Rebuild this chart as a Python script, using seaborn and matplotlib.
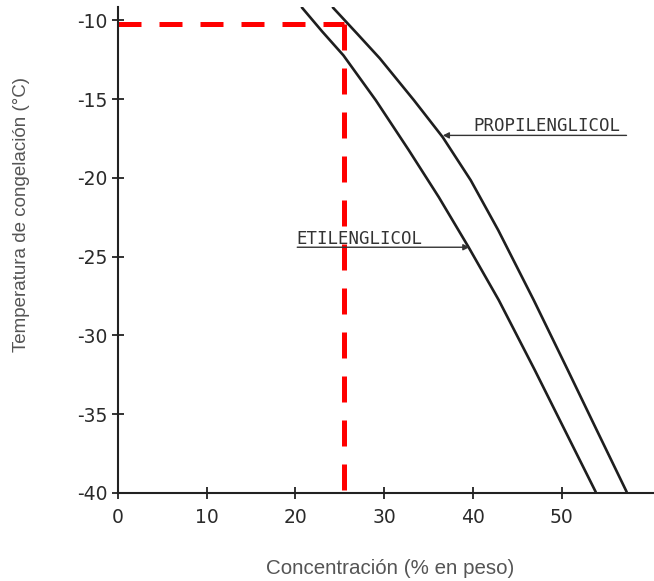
import numpy as np
import pandas as pd
import matplotlib
matplotlib.use("Agg")
import matplotlib.pyplot as plt
import seaborn as sns

# 数据 =====================================================================
# 乙二醇 / 丙二醇 冰点曲线
etil_conc = [20.72, 23.0, 25.4, 29.05, 32.77, 36.15, 39.5, 42.91, 46.96, 50.34, 53.83]
etil_temp = [-9.18, -10.70, -12.22, -15.07, -18.24, -21.22, -24.39, -27.76, -32.19,
             -36.0, -39.93]
prop_conc = [24.21, 26.91, 29.50, 33.35, 36.60, 39.75, 42.85, 46.85, 50.68, 53.94, 57.32]
prop_temp = [-9.18, -10.82, -12.41, -15.07, -17.42, -20.15, -23.32, -27.76, -32.19,
             -36.0, -39.93]

# 红色虚线：25.5 % -> -10.2 °C
ref_conc = 25.5
ref_temp = -10.2

x_ticks = [0, 10, 20, 30, 40, 50]
y_ticks = [-10, -15, -20, -25, -30, -35, -40]

df = pd.concat([
    pd.DataFrame({"conc": etil_conc, "temp": etil_temp, "fluido": "ETILENGLICOL"}),
    pd.DataFrame({"conc": prop_conc, "temp": prop_temp, "fluido": "PROPILENGLICOL"}),
])

# 图表风格
sns.set_style("white")
plt.rcParams['font.family'] = ['Liberation Sans', 'DejaVu Sans']
plt.rcParams['axes.unicode_minus'] = False

fig = plt.figure(figsize=(6.54, 5.81), dpi=100)
ax = fig.add_axes([118 / 654, 88 / 581, 536 / 654, 486 / 581])

sns.lineplot(data=df, x="conc", y="temp", units="fluido", estimator=None,
             sort=False, color="#1e1e1e", linewidth=1.9, ax=ax)

# 红色虚线
ax.plot([0, ref_conc], [ref_temp, ref_temp], color="#ff0000", lw=3.6,
        dashes=(4.6, 3.6), dash_capstyle="butt")
ax.plot([ref_conc, ref_conc], [ref_temp, -40], color="#ff0000", lw=3.6,
        dashes=(5.2, 3.6), dash_capstyle="butt")

# 标注
ax.annotate("", xy=(36.6, -17.3), xytext=(57.3, -17.3),
            arrowprops=dict(arrowstyle="-|>", color="#333333", lw=1.0,
                            mutation_scale=9, shrinkA=0, shrinkB=0))
ax.text(40.0, -17.05, "PROPILENGLICOL", fontsize=12.5, color="#333333",
        family="DejaVu Sans Mono", ha="left", va="baseline")
ax.annotate("", xy=(39.6, -24.4), xytext=(20.2, -24.4),
            arrowprops=dict(arrowstyle="-|>", color="#333333", lw=1.0,
                            mutation_scale=9, shrinkA=0, shrinkB=0))
ax.text(20.1, -24.2, "ETILENGLICOL", fontsize=12.5, color="#333333",
        family="DejaVu Sans Mono", ha="left", va="baseline")

ax.set_xlim(0, 60.4)
ax.set_ylim(-40, -9.15)
ax.set_xticks(x_ticks)
ax.set_yticks(y_ticks)
ax.set_xlabel("")
ax.set_ylabel("")

for side in ["top", "right"]:
    ax.spines[side].set_visible(False)
for side in ["left", "bottom"]:
    ax.spines[side].set_color("#222222")
    ax.spines[side].set_linewidth(1.5)

ax.tick_params(bottom=True, left=True, direction="inout", length=9, width=1.3,
               color="#222222", labelsize=13.5, labelcolor="#2a2a2a")
ax.tick_params(axis="x", pad=6)
ax.tick_params(axis="y", pad=3)
for lab in ax.get_xticklabels() + ax.get_yticklabels():
    lab.set_family("DejaVu Sans")

fig.text(22 / 654, 1 - 215 / 581, "Temperatura de congelación (°C)",
         rotation=90, ha="center", va="center", fontsize=13.5, color="#555555")
fig.text(390 / 654, 1 - 568 / 581, "Concentración (% en peso)",
         ha="center", va="center", fontsize=14.8, color="#555555")

fig.savefig("out.png", dpi=100)
